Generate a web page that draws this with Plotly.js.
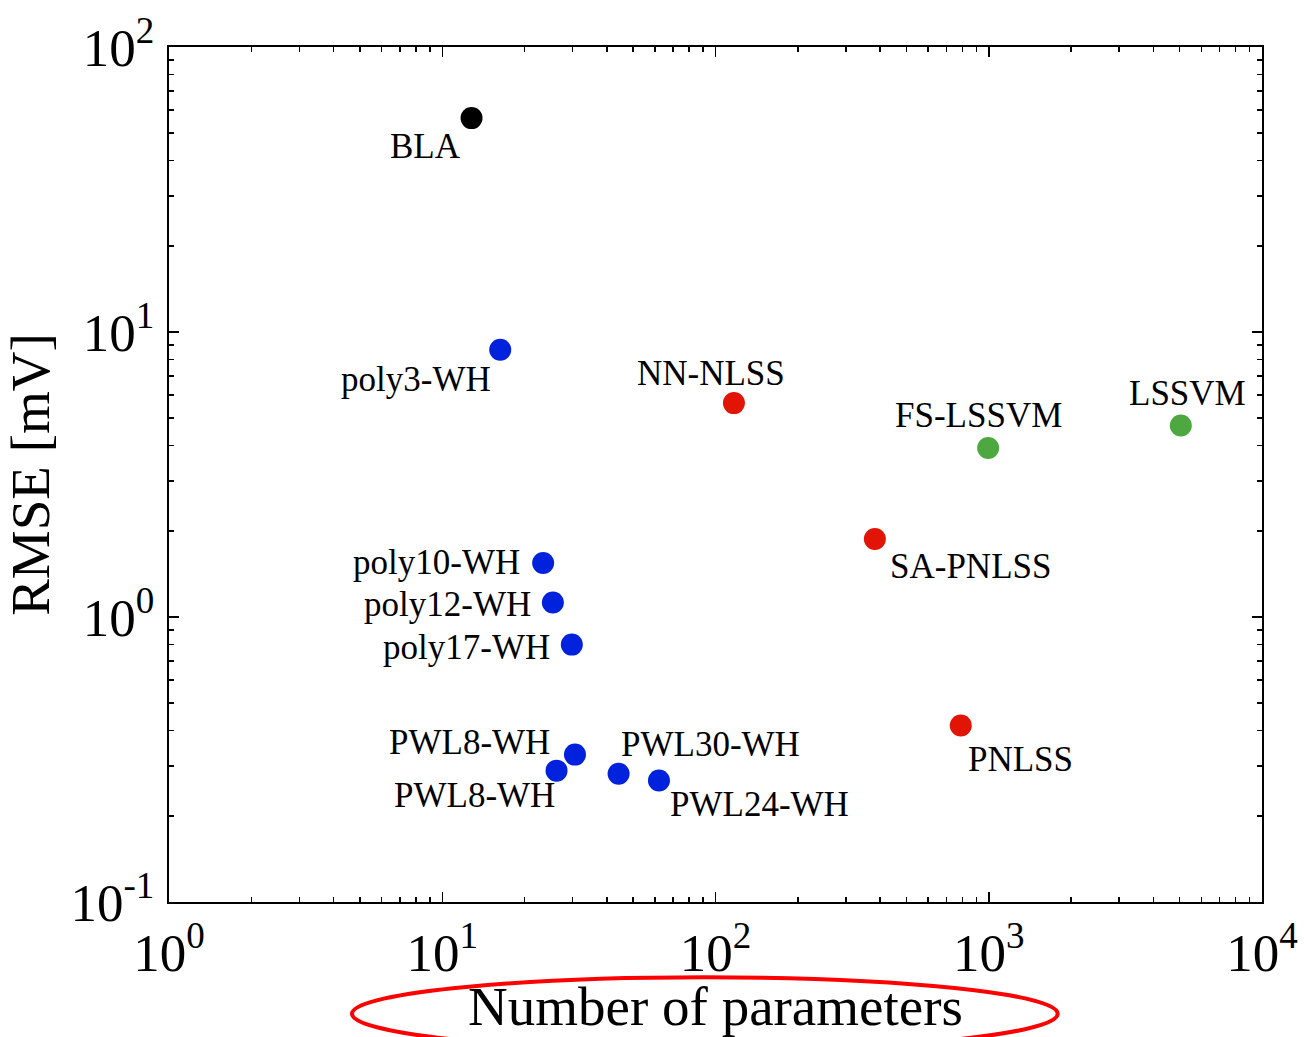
<!DOCTYPE html>
<html><head><meta charset="utf-8">
<script src="https://cdn.plot.ly/plotly-3.0.1.min.js"></script>
<style>body{margin:0;background:#fff}</style>
</head><body><div id="chart" style="width:1304px;height:1037px"></div>
<script>
// ---- data ----
const blaNames = ['BLA'];
const blaParams = [12.8];
const blaRmse = [56.3];

const whNames = ['poly3-WH','poly10-WH','poly12-WH','poly17-WH','PWL8-WH','PWL8-WH','PWL30-WH','PWL24-WH'];
const whParams = [16.3, 23.4, 25.4, 29.8, 30.6, 26.2, 44.2, 62.1];
const whRmse = [8.67, 1.547, 1.125, 0.80, 0.329, 0.289, 0.282, 0.267];

const ssNames = ['NN-NLSS','SA-PNLSS','PNLSS'];
const ssParams = [116.8, 383, 790];
const ssRmse = [5.63, 1.878, 0.416];

const svmNames = ['FS-LSSVM','LSSVM'];
const svmParams = [995, 5046];
const svmRmse = [3.92, 4.70];

const xTickVals = [1, 10, 100, 1000, 10000];
const xTickText = ['10<sup>0</sup>','10<sup>1</sup>','10<sup>2</sup>','10<sup>3</sup>','10<sup>4</sup>'];
const yTickVals = [0.1, 1, 10, 100];
const yTickText = ['10<sup>-1</sup>','10<sup>0</sup>','10<sup>1</sup>','10<sup>2</sup>'];

// ---- label placement (anchor, pixel offsets right/down from marker) ----
const blaLabelPos = [['right',-9,28]];
const whLabelPos = [['right',-7,30],['right',-21,-1],['right',-20,2],['right',-20,3],
                    ['right',-23,-12],['right',0,25],['left',0,-29],['left',9,24]];
const ssLabelPos = [['center',-23,-30],['left',13,27],['left',5,34]];
const svmLabelPos = [['center',-10,-32],['center',7,-32]];

const FONT = 'Liberation Serif, Times New Roman, serif';

function trace(xs, ys, names, color) {
  return {type:'scatter', mode:'markers', x:xs, y:ys, text:names, hoverinfo:'text',
    marker:{size:22, color:color, line:{width:0}}, showlegend:false};
}
const traces = [
  trace(blaParams, blaRmse, blaNames, '#000000'),
  trace(whParams, whRmse, whNames, '#0022dd'),
  trace(ssParams, ssRmse, ssNames, '#e11405'),
  trace(svmParams, svmRmse, svmNames, '#4ea840')
];

const annotations = [];
function addLabels(xs, ys, names, pos) {
  names.forEach((n, i) => {
    annotations.push({x:Math.log10(xs[i]), y:Math.log10(ys[i]), xref:'x', yref:'y', text:n,
      showarrow:false, xanchor:pos[i][0], yanchor:'middle', xshift:pos[i][1], yshift:-pos[i][2],
      font:{family:FONT, size:35, color:'#000'}});
  });
}
addLabels(blaParams, blaRmse, blaNames, blaLabelPos);
addLabels(whParams, whRmse, whNames, whLabelPos);
addLabels(ssParams, ssRmse, ssNames, ssLabelPos);
addLabels(svmParams, svmRmse, svmNames, svmLabelPos);

function minorVals(lo, hi) {
  const v = [];
  for (let e = lo; e < hi; e++) for (let m = 2; m <= 9; m++) v.push(m * Math.pow(10, e));
  return v;
}

const axisCommon = {
  type:'log', showgrid:false, zeroline:false, showline:true, linecolor:'#000', linewidth:2,
  mirror:'allticks', ticks:'inside', ticklen:10, tickwidth:1.5, tickcolor:'#000',
  tickmode:'array', tickfont:{family:FONT, size:53, color:'#000'}
};

const layout = {
  width:1304, height:1037,
  margin:{l:169, r:42, t:47, b:135},
  paper_bgcolor:'#fff', plot_bgcolor:'#fff',
  font:{family:FONT, color:'#000'},
  xaxis:Object.assign({}, axisCommon, {
    range:[0,4], tickvals:xTickVals, ticktext:xTickText, ticklabelstandoff:3,
    minor:{tickmode:'array', tickvals:minorVals(0,4), ticks:'inside', ticklen:5, tickwidth:1.5, tickcolor:'#000', showgrid:false},
    title:{text:'Number of parameters', font:{family:FONT, size:55, color:'#000'}, standoff:8}
  }),
  yaxis:Object.assign({}, axisCommon, {
    range:[-1,2], tickvals:yTickVals, ticktext:yTickText, ticklabelstandoff:2,
    minor:{tickmode:'array', tickvals:minorVals(-1,2), ticks:'inside', ticklen:5, tickwidth:1.5, tickcolor:'#000', showgrid:false},
    title:{text:'RMSE [mV]', font:{family:FONT, size:55, color:'#000'}, standoff:10}
  }),
  annotations:annotations,
  shapes:[{type:'circle', xref:'paper', yref:'paper', x0:0.1674, x1:0.8131, y0:-0.1735, y1:-0.088,
    line:{color:'#ff0000', width:4}, fillcolor:'rgba(0,0,0,0)'}]
};

Plotly.newPlot('chart', traces, layout, {displayModeBar:false, staticPlot:true});
</script>
</body></html>
